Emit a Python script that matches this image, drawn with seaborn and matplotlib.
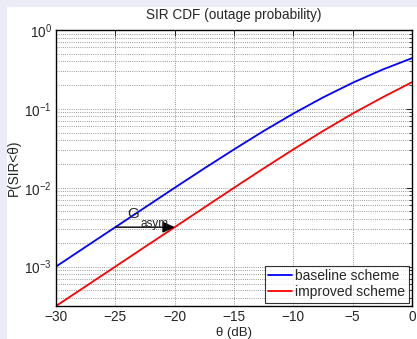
import numpy as np
import pandas as pd
import matplotlib
matplotlib.use("Agg")
import matplotlib.pyplot as plt
from matplotlib.patches import Rectangle
from matplotlib.ticker import LogLocator, FixedLocator, NullFormatter
import seaborn as sns

theta_db = [-30, -27.5, -25, -22.5, -20, -17.5, -15, -12.5, -10, -7.5, -5, -2.5, 0]
baseline = [0.001, 0.00178, 0.00316, 0.00562, 0.00998, 0.0176, 0.0306, 0.0524, 0.0871,
            0.1396, 0.2143, 0.3141, 0.4395]
improved = [0.000316, 0.000562, 0.001, 0.00178, 0.00316, 0.00562, 0.00998, 0.0176, 0.0306,
            0.0524, 0.0871, 0.1396, 0.2180]
series_names = ["baseline scheme", "improved scheme"]
xticks = [-30, -25, -20, -15, -10, -5, 0]

df = pd.DataFrame({
    "theta": theta_db * 2,
    "p": baseline + improved,
    "scheme": [series_names[0]] * len(theta_db) + [series_names[1]] * len(theta_db),
})

sns.set_theme(style="white")
plt.rcParams["font.family"] = ["Liberation Sans", "DejaVu Sans"]

fig = plt.figure(figsize=(4.17, 3.39), dpi=100)
fig.patch.set_facecolor("#ECECF6")
bg = Rectangle((7 / 417, 0), 1, 1 - 7 / 339, transform=fig.transFigure,
               facecolor="white", edgecolor="none", zorder=-10)
fig.patches.append(bg)
ax = fig.add_axes([56 / 417, 1 - 306 / 339, (412 - 56) / 417, (306 - 30) / 339])
ax.set_zorder(5)

sns.lineplot(data=df, x="theta", y="p", hue="scheme", palette=["#0000FF", "#FF0000"],
             linewidth=1.3, ax=ax, legend=True)
ax.set_yscale("log")
ax.set_xlim(-30, 0)
ax.set_ylim(10 ** -3.5, 1)
ax.xaxis.set_major_locator(FixedLocator(xticks))
ax.set_xticklabels(["\u221230", "\u221225", "\u221220", "\u221215", "\u221210", "\u22125", "0"])
ax.yaxis.set_major_locator(LogLocator(base=10, numticks=10))
ax.yaxis.set_minor_locator(LogLocator(base=10, subs=np.arange(2, 10), numticks=20))
ax.yaxis.set_minor_formatter(NullFormatter())

ax.grid(True, which="major", axis="both", linestyle=(0, (1, 1.6)), color="#777777", linewidth=0.6)
ax.grid(True, which="minor", axis="y", linestyle=(0, (1, 1.6)), color="#777777", linewidth=0.6)
ax.tick_params(which="both", direction="in", top=True, right=True, labelsize=9.8, color="black")
ax.tick_params(which="major", length=4, width=0.6, pad=3)
ax.tick_params(which="minor", length=2, width=0.5)
for s in ax.spines.values():
    s.set_color("black")
    s.set_linewidth(1.0)

ax.set_title("SIR CDF (outage probability)", fontsize=9.8, pad=8)
ax.set_xlabel("\u03b8 (dB)", fontsize=9.5, labelpad=2)
ax.set_ylabel("P(SIR<\u03b8)", fontsize=9.8, labelpad=2)

ax.annotate("", xy=(-20, improved[4]), xytext=(-25, baseline[2]),
            arrowprops=dict(arrowstyle="-|>,head_length=0.6,head_width=0.28", color="black",
                            lw=1.0, shrinkA=0, shrinkB=0))
ax.text(-24.0, 0.0041, "G", fontsize=11, ha="left", va="baseline")
ax.text(-22.9, 0.00318, "asym", fontsize=8.5, ha="left", va="baseline")

leg = ax.legend(loc="lower right", frameon=True, fancybox=False, fontsize=10,
                borderpad=0.25, labelspacing=0.15, handlelength=1.7, handletextpad=0.25,
                borderaxespad=0.25)
leg.get_frame().set_edgecolor("black")
leg.get_frame().set_linewidth(0.8)
leg.set_title(None)

fig.savefig("out.png", dpi=100, facecolor=fig.get_facecolor())
